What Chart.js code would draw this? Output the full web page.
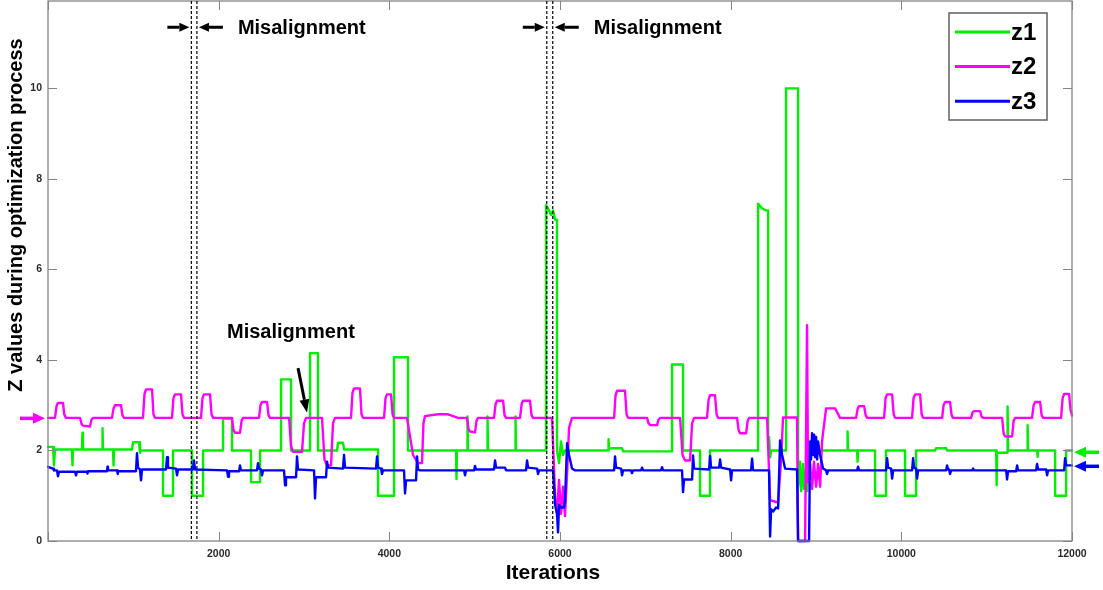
<!DOCTYPE html>
<html>
<head>
<meta charset="utf-8">
<script src="https://cdn.jsdelivr.net/npm/chart.js@4.4.0/dist/chart.umd.min.js"></script>
<style>
  html, body { margin: 0; padding: 0; background: #fff; }
  canvas { display: block; }
</style>
</head>
<body>
<canvas id="zChart" width="1103" height="590"></canvas>
<script>
// --- datos: [iteracion, valor] ---
const z1 = [
  [0,2.08],[59,2.08],[70,1.67],[82,2.02],
  [281,2.02],[287,1.67],[293,2.02],
  [398,2.02],[404,2.39],[410,2.02],
  [633,2.02],[639,2.49],[645,2.02],
  [762,2.02],[768,1.67],[774,2.02],
  [984,2.02],[996,2.18],[1067,2.18],[1078,1.95],[1090,2.0],
  [1348,2.0],[1348,1.0],[1465,1.0],[1465,2.0],
  [1688,2.0],[1688,1.0],[1817,1.0],[1817,2.0],
  [2051,2.0],[2051,2.7],[2156,2.7],[2156,2.0],
  [2379,2.0],[2379,1.3],[2485,1.3],[2485,2.0],
  [2731,2.0],[2731,3.57],[2848,3.57],[2848,2.0],
  [3071,2.0],[3071,4.15],[3164,4.15],[3164,2.0],
  [3387,2.0],[3399,2.17],[3457,2.17],[3469,2.02],
  [3868,2.02],[3868,1.0],[4055,1.0],[4055,4.06],[4219,4.06],[4219,2.0],
  [4782,2.0],[4787,1.37],[4793,2.0],
  [4911,2.0],[4916,2.75],[4922,2.0],
  [5145,2.0],[5151,2.75],[5157,2.0],
  [5473,2.0],[5479,2.75],[5485,2.0],
  [5837,2.0],[5837,7.42],[5872,7.3],[5895,7.2],[5919,7.3],[5942,7.1],[5965,7.1],[5965,2.0],[5989,1.72],[6012,2.2],[6036,1.9],[6059,2.0],
  [6563,2.0],[6569,2.25],[6575,2.05],
  [6727,2.05],[6739,1.98],
  [7313,1.98],[7313,3.9],[7442,3.9],[7442,2.0],
  [7641,2.0],[7641,1.0],[7758,1.0],[7758,2.0],
  [8321,2.0],[8321,7.45],[8368,7.35],[8415,7.3],[8439,7.3],[8439,2.05],[8450,2.3],[8462,1.85],[8474,2.0],
  [8649,2.0],[8649,10.0],[8790,10.0],[8790,1.2],[8813,1.75],[8825,1.1],[8849,1.7],[8860,1.15],[8884,1.6],[8895,1.1],[8919,1.8],[8954,2.0],
  [9364,2.0],[9370,2.42],[9376,2.0],
  [9481,2.0],[9487,1.75],[9493,2.0],
  [9692,2.0],[9692,1.0],[9821,1.0],[9821,2.0],
  [10044,2.0],[10044,1.0],[10173,1.0],[10173,2.0],
  [10396,2.0],[10407,2.05],[10525,2.05],[10536,2.0],
  [11111,2.0],[11117,1.23],[11122,1.95],
  [11239,1.95],[11245,2.97],[11251,2.0],
  [11474,2.0],[11480,2.56],[11486,2.0],
  [11591,2.0],[11597,1.86],[11603,2.0],
  [11802,2.0],[11802,1.0],[11931,1.0],[11931,2.0],[12000,2.0]
];

const z2 = [
  [0,2.72],[82,2.72],[100,2.98],[117,3.05],[176,3.05],[190,2.8],[211,2.72],
  [375,2.72],[395,2.58],[410,2.55],[492,2.53],[510,2.68],[527,2.72],
  [750,2.72],[768,2.93],[785,3.0],[856,3.0],[872,2.78],[891,2.72],
  [1113,2.72],[1131,3.25],[1149,3.35],[1219,3.35],[1236,2.8],[1254,2.72],
  [1453,2.72],[1470,3.15],[1488,3.24],[1559,3.24],[1576,2.8],[1594,2.72],
  [1793,2.72],[1810,3.15],[1828,3.24],[1899,3.24],[1916,2.8],[1934,2.72],
  [2156,2.72],[2174,2.45],[2192,2.39],[2250,2.39],[2268,2.65],[2285,2.72],
  [2473,2.72],[2490,3.0],[2508,3.07],[2567,3.07],[2584,2.78],[2602,2.72],
  [2825,2.72],[2848,2.1],[2871,1.97],[2977,1.97],[3000,2.6],[3024,2.72],
  [3211,2.72],[3240,1.8],[3270,1.67],[3317,1.67],[3340,2.6],[3364,2.72],
  [3551,2.72],[3568,3.27],[3586,3.37],[3656,3.37],[3674,2.8],[3692,2.72],
  [3938,2.72],[3955,3.15],[3973,3.24],[4020,3.24],[4038,2.8],[4055,2.72],
  [4207,2.72],[4278,1.9],[4336,1.72],[4383,1.72],[4400,2.6],[4418,2.76],[4571,2.8],[4688,2.8],[4805,2.72],
  [4911,2.72],[4928,2.47],[4946,2.42],[5004,2.4],[5022,2.66],[5040,2.72],
  [5227,2.72],[5245,3.02],[5262,3.1],[5333,3.1],[5350,2.78],[5368,2.72],
  [5532,2.72],[5550,3.02],[5567,3.1],[5649,3.1],[5666,2.78],[5684,2.72],
  [5907,2.72],[5942,1.0],[5965,0.6],[5989,1.35],[6012,0.6],[6036,1.2],[6059,0.55],[6083,1.5],[6106,2.5],[6141,2.72],
  [6634,2.72],[6651,3.22],[6669,3.32],[6762,3.32],[6780,2.8],[6798,2.72],
  [7020,2.72],[7038,2.6],[7055,2.56],[7137,2.56],[7155,2.68],[7173,2.72],
  [7407,2.72],[7436,1.9],[7466,1.78],[7524,1.78],[7548,2.6],[7571,2.72],
  [7723,2.72],[7741,3.12],[7759,3.22],[7817,3.22],[7835,2.8],[7852,2.72],
  [8075,2.72],[8093,2.45],[8110,2.38],[8181,2.38],[8199,2.65],[8216,2.72],
  [8427,2.72],[8462,0.9],[8556,0.85],[8591,1.8],[8614,2.73],[8778,2.73],[8790,0],[8872,0],[8895,4.77],[8907,1.3],[8931,1.7],[8954,1.15],[8976,1.75],[9001,1.2],[9024,1.7],[9048,1.2],[9071,2.2],[9118,2.93],[9224,2.93],[9282,2.72],
  [9470,2.72],[9488,2.92],[9505,2.98],[9564,2.98],[9582,2.78],[9599,2.72],
  [9798,2.72],[9815,3.15],[9833,3.24],[9892,3.24],[9910,2.8],[9927,2.72],
  [10126,2.72],[10143,3.15],[10161,3.24],[10220,3.24],[10238,2.8],[10255,2.72],
  [10478,2.72],[10495,3.0],[10513,3.07],[10571,3.07],[10589,2.78],[10607,2.72],
  [10817,2.72],[10835,2.84],[10852,2.87],[10923,2.87],[10940,2.75],[10958,2.72],
  [11181,2.72],[11199,2.38],[11216,2.31],[11298,2.31],[11316,2.65],[11333,2.72],
  [11532,2.72],[11550,3.0],[11568,3.07],[11626,3.07],[11644,2.78],[11661,2.72],
  [11872,2.72],[11890,3.15],[11908,3.25],[11966,3.25],[11983,2.9],[12000,2.77]
];

const z3 = [
  [0,1.64],[59,1.60],[70,1.56],
  [105,1.56],[117,1.43],[129,1.53],
  [316,1.53],[328,1.45],[340,1.53],
  [457,1.53],[463,1.49],[469,1.54],
  [691,1.54],[697,1.64],[703,1.56],
  [809,1.56],[815,1.48],[820,1.54],
  [1031,1.54],[1043,1.94],[1055,1.62],[1078,1.58],[1090,1.34],[1102,1.58],
  [1383,1.58],[1395,1.85],[1406,1.62],[1500,1.60],[1512,1.45],[1524,1.58],
  [1699,1.58],[1711,1.78],[1723,1.58],
  [2098,1.56],[2110,1.42],[2121,1.54],
  [2239,1.54],[2250,1.67],[2262,1.56],
  [2449,1.56],[2461,1.72],[2473,1.60],[2496,1.58],[2508,1.45],[2520,1.56],
  [2766,1.56],[2778,1.23],[2789,1.41],
  [2907,1.41],[2918,1.87],[2930,1.58],
  [3118,1.56],[3129,0.94],[3141,1.41],
  [3258,1.41],[3270,1.75],[3282,1.62],
  [3457,1.60],[3469,1.90],[3481,1.62],
  [3844,1.60],[3856,1.87],[3868,1.62],[3903,1.60],[3914,1.48],[3926,1.56],
  [4172,1.56],[4184,1.05],[4196,1.34],
  [4313,1.34],[4325,1.87],[4336,1.58],[4360,1.56],
  [4876,1.56],[4887,1.45],[4899,1.56],
  [4993,1.56],[5004,1.66],[5016,1.58],
  [5227,1.58],[5239,1.78],[5251,1.62],[5356,1.62],[5368,1.56],
  [5602,1.56],[5614,1.78],[5626,1.62],[5731,1.60],[5743,1.48],[5755,1.56],
  [5919,1.56],[5942,0.8],[5965,0.6],[5977,0.19],[5989,0.8],[6012,0.74],[6048,0.74],[6059,0.9],[6083,2.16],[6106,1.9],[6141,1.6],[6176,1.56],
  [6634,1.56],[6645,1.87],[6657,1.62],[6716,1.60],[6727,1.45],[6739,1.56],
  [6833,1.56],[6844,1.50],[6856,1.56],
  [6950,1.56],[6962,1.62],[6974,1.56],
  [7184,1.56],[7196,1.63],[7208,1.56],
  [7430,1.56],[7442,1.08],[7454,1.36],
  [7548,1.36],[7559,1.89],[7571,1.60],
  [7747,1.58],[7759,1.88],[7770,1.62],
  [7864,1.62],[7876,1.80],[7888,1.62],
  [7993,1.58],[8005,1.34],[8016,1.56],
  [8239,1.56],[8251,1.82],[8263,1.56],
  [8450,1.56],[8462,0.1],[8474,0.7],[8497,0.65],[8532,0.74],[8556,0.72],[8579,2.22],[8603,1.9],[8638,1.6],
  [8778,1.58],[8790,0],[8919,0],[8931,2.2],[8942,1.8],[8954,2.38],[8966,1.9],[8978,2.35],[8989,1.85],[9001,2.3],[9013,1.8],[9024,2.2],[9048,1.9],[9083,1.6],[9118,1.56],
  [9130,1.48],[9142,1.56],
  [9481,1.56],[9493,1.64],[9505,1.56],
  [9821,1.56],[9833,1.83],[9845,1.62],[9880,1.60],[9892,1.38],[9904,1.56],
  [10126,1.56],[10138,1.83],[10150,1.62],[10173,1.60],[10185,1.38],[10196,1.56],
  [10525,1.56],[10536,1.67],[10548,1.58],[10560,1.58],[10571,1.48],[10583,1.56],
  [10829,1.56],[10841,1.60],[10852,1.56],
  [11228,1.56],[11239,1.36],[11251,1.54],
  [11345,1.54],[11357,1.67],[11369,1.56],
  [11579,1.56],[11591,1.70],[11603,1.58],
  [11697,1.58],[11708,1.45],[11720,1.56],
  [11908,1.56],[11919,1.83],[11931,1.67],[12000,1.67]
];

const seriesNames = ['z1', 'z2', 'z3'];
const seriesColors = ['rgb(0,240,0)', 'rgb(255,0,255)', 'rgb(0,0,255)'];
const xTicks = [0, 2000, 4000, 6000, 8000, 10000, 12000];
const yTicks = [0, 2, 4, 6, 8, 10];

// lineas discontinuas de desalineacion (iteraciones)
const misalignPairs = [[1680, 1745], [5845, 5915]];
// nivel de referencia de cada z (flechas laterales)
const refLevels = [1.96, 2.71, 1.65];

const fontFam = '"Liberation Sans", Arial, sans-serif';
const axisGrey = '#858585';

function toPoints(arr) {
  return arr.map(p => ({ x: p[0], y: p[1] }));
}

function drawArrow(ctx, x1, y1, x2, y2, color, width, headLen, headW) {
  const ang = Math.atan2(y2 - y1, x2 - x1);
  const bx = x2 - headLen * Math.cos(ang);
  const by = y2 - headLen * Math.sin(ang);
  ctx.save();
  ctx.strokeStyle = color;
  ctx.fillStyle = color;
  ctx.lineWidth = width;
  ctx.setLineDash([]);
  ctx.beginPath();
  ctx.moveTo(x1, y1);
  ctx.lineTo(bx, by);
  ctx.stroke();
  ctx.beginPath();
  ctx.moveTo(x2, y2);
  ctx.lineTo(bx + headW / 2 * Math.sin(ang), by - headW / 2 * Math.cos(ang));
  ctx.lineTo(bx - headW / 2 * Math.sin(ang), by + headW / 2 * Math.cos(ang));
  ctx.closePath();
  ctx.fill();
  ctx.restore();
}

// marco estilo matlab con ticks hacia dentro
const framePlugin = {
  id: 'frame',
  afterDatasetsDraw(chart) {
    const { ctx, chartArea: a, scales } = chart;
    ctx.save();
    ctx.strokeStyle = axisGrey;
    ctx.lineWidth = 1.3;
    ctx.strokeRect(a.left, a.top, a.right - a.left, a.bottom - a.top);
    ctx.lineWidth = 1;
    xTicks.forEach(v => {
      const px = Math.round(scales.x.getPixelForValue(v)) + 0.5;
      ctx.beginPath();
      ctx.moveTo(px, a.bottom); ctx.lineTo(px, a.bottom - 9);
      ctx.moveTo(px, a.top); ctx.lineTo(px, a.top + 9);
      ctx.stroke();
    });
    yTicks.forEach(v => {
      const py = Math.round(scales.y.getPixelForValue(v)) + 0.5;
      ctx.beginPath();
      ctx.moveTo(a.left, py); ctx.lineTo(a.left + 9, py);
      ctx.moveTo(a.right, py); ctx.lineTo(a.right - 9, py);
      ctx.stroke();
    });
    ctx.restore();
  }
};

// anotaciones: lineas discontinuas, flechas, textos
const annotPlugin = {
  id: 'annot',
  afterDraw(chart) {
    const { ctx, chartArea: a, scales } = chart;
    const sx = scales.x, sy = scales.y;
    ctx.save();

    // lineas discontinuas
    ctx.strokeStyle = '#000';
    ctx.lineWidth = 1.2;
    ctx.setLineDash([3, 2]);
    misalignPairs.flat().forEach(v => {
      const px = sx.getPixelForValue(v);
      ctx.beginPath();
      ctx.moveTo(px, a.top);
      ctx.lineTo(px, a.bottom);
      ctx.stroke();
    });
    ctx.setLineDash([]);

    // flechas superiores + texto
    const yArrow = sy.getPixelForValue(11.35);
    ctx.font = 'bold 20px ' + fontFam;
    ctx.fillStyle = '#000';
    ctx.textBaseline = 'middle';
    ctx.textAlign = 'left';
    misalignPairs.forEach(([l, r]) => {
      const pl = sx.getPixelForValue(l);
      const pr = sx.getPixelForValue(r);
      drawArrow(ctx, pl - 24, yArrow, pl - 2, yArrow, '#000', 3, 10, 9);
      drawArrow(ctx, pr + 26, yArrow, pr + 2, yArrow, '#000', 3, 10, 9);
      ctx.fillText('Misalignment', pr + 41, yArrow + 1);
    });

    // texto y flecha del medio
    ctx.fillText('Misalignment', sx.getPixelForValue(2098), sy.getPixelForValue(4.61));
    drawArrow(ctx, sx.getPixelForValue(2930), sy.getPixelForValue(3.82),
      sx.getPixelForValue(3035), sy.getPixelForValue(2.84), '#000', 3, 13, 10);

    // flechas laterales de referencia
    drawArrow(ctx, 20, sy.getPixelForValue(refLevels[1]), a.left - 3, sy.getPixelForValue(refLevels[1]), seriesColors[1], 3.5, 12, 11);
    drawArrow(ctx, 1099, sy.getPixelForValue(refLevels[0]), a.right + 2, sy.getPixelForValue(refLevels[0]), seriesColors[0], 3.5, 12, 11);
    drawArrow(ctx, 1099, sy.getPixelForValue(refLevels[2]), a.right + 2, sy.getPixelForValue(refLevels[2]), seriesColors[2], 3.5, 12, 11);

    // titulos de ejes
    ctx.textAlign = 'center';
    ctx.font = 'bold 21px ' + fontFam;
    ctx.fillText('Iterations', 553, 573);
    ctx.save();
    ctx.translate(16, 215);
    ctx.rotate(-Math.PI / 2);
    ctx.font = 'bold 20px ' + fontFam;
    ctx.fillText('Z values during optimization process', 0, 0);
    ctx.restore();

    ctx.restore();
  }
};

// leyenda dentro del area
const legendPlugin = {
  id: 'zLegend',
  afterDraw(chart) {
    const { ctx, chartArea: a } = chart;
    const left = a.right - 123, top = a.top + 12, w = 98, h = 107;
    ctx.save();
    ctx.fillStyle = '#fff';
    ctx.fillRect(left, top, w, h);
    ctx.strokeStyle = '#606060';
    ctx.lineWidth = 1.5;
    ctx.strokeRect(left, top, w, h);
    ctx.font = 'bold 24px ' + fontFam;
    ctx.textBaseline = 'middle';
    ctx.textAlign = 'left';
    seriesNames.forEach((name, i) => {
      const y = top + 19 + i * 34.6;
      ctx.strokeStyle = seriesColors[i];
      ctx.lineWidth = 3;
      ctx.beginPath();
      ctx.moveTo(left + 6, y);
      ctx.lineTo(left + 61, y);
      ctx.stroke();
      ctx.fillStyle = '#000';
      ctx.fillText(name, left + 62, y + 1);
    });
    ctx.restore();
  }
};

const ctx = document.getElementById('zChart').getContext('2d');
new Chart(ctx, {
  type: 'scatter',
  data: {
    datasets: [z1, z2, z3].map((s, i) => ({
      label: seriesNames[i],
      data: toPoints(s),
      showLine: true,
      borderColor: seriesColors[i],
      backgroundColor: seriesColors[i],
      borderWidth: 2.4,
      borderJoinStyle: 'round',
      borderCapStyle: 'round',
      pointRadius: 0,
      tension: 0,
      clip: 3,
      order: 3 - i // z3 arriba
    }))
  },
  options: {
    responsive: false,
    animation: false,
    devicePixelRatio: 1,
    layout: { padding: { left: 0, right: 31, top: 1, bottom: 0 } },
    plugins: {
      legend: { display: false },
      tooltip: { enabled: false }
    },
    scales: {
      x: {
        type: 'linear',
        min: 0,
        max: 12000,
        grid: { display: false, drawTicks: false },
        border: { display: false },
        afterBuildTicks: s => { s.ticks = xTicks.map(v => ({ value: v })); },
        afterFit: s => { s.height = 49; s.paddingLeft = 0; s.paddingRight = 0; },
        ticks: {
          autoSkip: false,
          maxRotation: 0,
          padding: 7,
          color: '#2b2b2b',
          font: { family: fontFam, size: 10.5, weight: 'bold' },
          callback: v => (v === 0 ? '' : String(v))
        }
      },
      y: {
        min: 0,
        max: 11.93,
        grid: { display: false, drawTicks: false },
        border: { display: false },
        afterBuildTicks: s => { s.ticks = yTicks.map(v => ({ value: v })); },
        afterFit: s => { s.width = 48; s.paddingTop = 0; s.paddingBottom = 0; },
        ticks: {
          padding: 6,
          color: '#2b2b2b',
          font: { family: fontFam, size: 10.5, weight: 'bold' },
          callback: v => String(v)
        }
      }
    }
  },
  plugins: [framePlugin, annotPlugin, legendPlugin]
});
</script>
</body>
</html>
